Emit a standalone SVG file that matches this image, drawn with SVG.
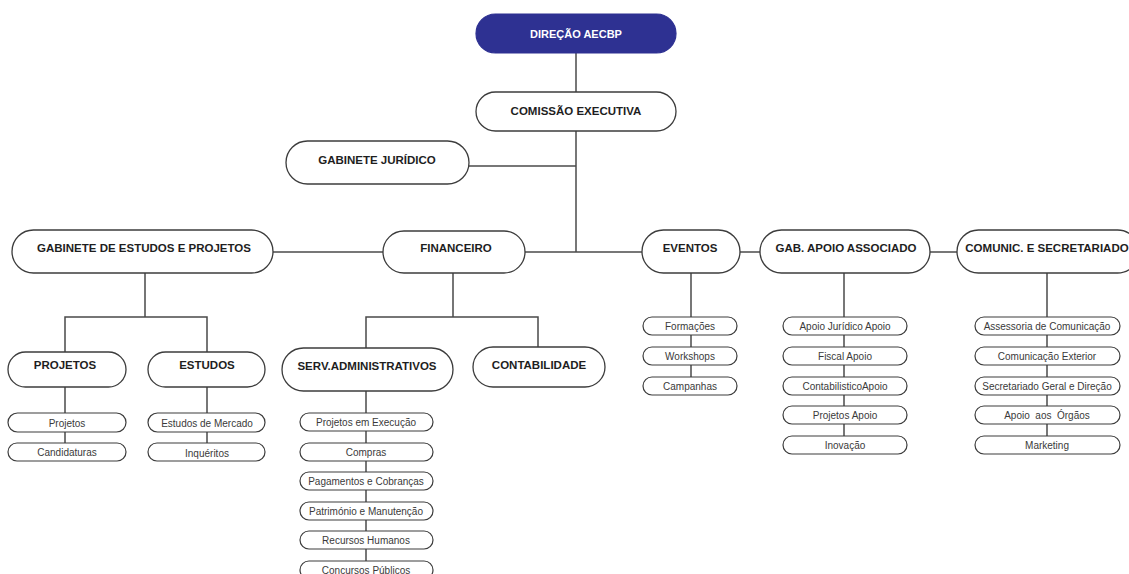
<svg xmlns="http://www.w3.org/2000/svg" width="1129" height="574" viewBox="0 0 1129 574">
<style>
.bg{fill:#ffffff}
.h{fill:#ffffff;stroke:#3c3c3c;stroke-width:1.3}
.s{fill:#ffffff;stroke:#3c3c3c;stroke-width:1.2}
.top{fill:#2e3192;stroke:#2e3192;stroke-width:1.2}
.ht{font-family:"Liberation Sans",Arial,sans-serif;font-weight:bold;font-size:11.5px;fill:#1e1e1e;text-anchor:middle}
.tt{font-family:"Liberation Sans",Arial,sans-serif;font-weight:bold;font-size:11px;fill:#ffffff;text-anchor:middle}
.st{font-family:"Liberation Sans",Arial,sans-serif;font-size:10px;fill:#3a3a3a;text-anchor:middle;white-space:pre}
#connectors path{fill:none;stroke:#4a4a4a;stroke-width:1.5}
</style>
<rect class="bg" x="0" y="0" width="1129" height="574"/>
<g id="connectors">
<path d="M576 53V92"/>
<path d="M576 131V252"/>
<path d="M469 166H576"/>
<path d="M273 252H383"/>
<path d="M525 252H642"/>
<path d="M740 252H760"/>
<path d="M930 252H957"/>
<path d="M145 273V317M65 352V317H207V352"/>
<path d="M65 387V443"/>
<path d="M207 387V443"/>
<path d="M453 273V317M366 348V317H538V347"/>
<path d="M366 391V574"/>
<path d="M691 273V377"/>
<path d="M844 273V436"/>
<path d="M1047 273V436"/>
</g>
<g id="direcao"><rect class="top" x="476" y="14" width="200" height="39" rx="19.5"/><text class="tt" x="576" y="38">DIREÇÃO AECBP</text></g>
<g id="comissao"><rect class="h" x="476" y="92" width="200" height="39" rx="19.5"/><text class="ht" x="576" y="115">COMISSÃO EXECUTIVA</text></g>
<g id="juridico"><rect class="h" x="286" y="141" width="183" height="43" rx="21.5"/><text class="ht" x="377" y="164">GABINETE JURÍDICO</text></g>
<g id="gabestudos"><rect class="h" x="12" y="230" width="261" height="43" rx="21.5"/><text class="ht" x="144" y="252">GABINETE DE ESTUDOS E PROJETOS</text></g>
<g id="financeiro"><rect class="h" x="383" y="231" width="142" height="42" rx="21"/><text class="ht" x="456" y="252">FINANCEIRO</text></g>
<g id="eventos"><rect class="h" x="642" y="230" width="98" height="43" rx="21.5"/><text class="ht" x="690" y="252">EVENTOS</text></g>
<g id="gabapoio"><rect class="h" x="760" y="230" width="170" height="43" rx="21.5"/><text class="ht" x="846" y="252">GAB. APOIO ASSOCIADO</text></g>
<g id="comunic"><rect class="h" x="957" y="230" width="182" height="43" rx="21.5"/><text class="ht" x="1047" y="252">COMUNIC. E SECRETARIADO</text></g>
<g id="projetos"><rect class="h" x="8" y="352" width="118" height="35" rx="17.5"/><text class="ht" x="65" y="369">PROJETOS</text></g>
<g id="estudos"><rect class="h" x="148" y="352" width="117" height="35" rx="17.5"/><text class="ht" x="207" y="369">ESTUDOS</text></g>
<g id="servadm"><rect class="h" x="282" y="348" width="171" height="43" rx="21.5"/><text class="ht" x="367" y="370">SERV.ADMINISTRATIVOS</text></g>
<g id="contabilidade"><rect class="h" x="473" y="347" width="132" height="40" rx="20"/><text class="ht" x="539" y="369">CONTABILIDADE</text></g>
<g id="p1"><rect class="s" x="8" y="413" width="118" height="19" rx="9.5"/><text class="st" x="67" y="426.5">Projetos</text></g>
<g id="p2"><rect class="s" x="8" y="443" width="118" height="18" rx="9"/><text class="st" x="67" y="456">Candidaturas</text></g>
<g id="e1"><rect class="s" x="148" y="413" width="117" height="19" rx="9.5"/><text class="st" x="207" y="426.5">Estudos de Mercado</text></g>
<g id="e2"><rect class="s" x="148" y="443" width="117" height="18" rx="9"/><text class="st" x="207" y="456.5">Inquéritos</text></g>
<g id="s1"><rect class="s" x="300" y="413" width="133" height="18" rx="9"/><text class="st" x="366" y="426">Projetos em Execução</text></g>
<g id="s2"><rect class="s" x="300" y="443" width="133" height="18" rx="9"/><text class="st" x="366" y="456">Compras</text></g>
<g id="s3"><rect class="s" x="300" y="472" width="133" height="18" rx="9"/><text class="st" x="366" y="485">Pagamentos e Cobranças</text></g>
<g id="s4"><rect class="s" x="300" y="502" width="133" height="18" rx="9"/><text class="st" x="366" y="515">Património e Manutenção</text></g>
<g id="s5"><rect class="s" x="300" y="531" width="133" height="18" rx="9"/><text class="st" x="366" y="544">Recursos Humanos</text></g>
<g id="s6"><rect class="s" x="300" y="561" width="133" height="18" rx="9"/><text class="st" x="366" y="574">Concursos Públicos</text></g>
<g id="ev1"><rect class="s" x="643" y="317" width="94" height="18" rx="9"/><text class="st" x="690" y="330">Formações</text></g>
<g id="ev2"><rect class="s" x="643" y="347" width="94" height="18" rx="9"/><text class="st" x="690" y="360">Workshops</text></g>
<g id="ev3"><rect class="s" x="643" y="377" width="94" height="18" rx="9"/><text class="st" x="690" y="390">Campanhas</text></g>
<g id="a1"><rect class="s" x="783" y="317" width="124" height="18" rx="9"/><text class="st" x="845" y="330">Apoio Jurídico Apoio</text></g>
<g id="a2"><rect class="s" x="783" y="347" width="124" height="18" rx="9"/><text class="st" x="845" y="360">Fiscal Apoio</text></g>
<g id="a3"><rect class="s" x="783" y="377" width="124" height="18" rx="9"/><text class="st" x="845" y="390">ContabilisticoApoio</text></g>
<g id="a4"><rect class="s" x="783" y="406" width="124" height="18" rx="9"/><text class="st" x="845" y="419">Projetos Apoio</text></g>
<g id="a5"><rect class="s" x="783" y="436" width="124" height="18" rx="9"/><text class="st" x="845" y="449">Inovação</text></g>
<g id="c1"><rect class="s" x="975" y="317" width="145" height="18" rx="9"/><text class="st" x="1047" y="330">Assessoria de Comunicação</text></g>
<g id="c2"><rect class="s" x="975" y="347" width="145" height="18" rx="9"/><text class="st" x="1047" y="360">Comunicação Exterior</text></g>
<g id="c3"><rect class="s" x="975" y="377" width="145" height="18" rx="9"/><text class="st" x="1047" y="390">Secretariado Geral e Direção</text></g>
<g id="c4"><rect class="s" x="975" y="406" width="145" height="18" rx="9"/><text class="st" x="1047" y="419" xml:space="preserve">Apoio  aos  Órgãos</text></g>
<g id="c5"><rect class="s" x="975" y="436" width="145" height="18" rx="9"/><text class="st" x="1047" y="449">Marketing</text></g>
</svg>
